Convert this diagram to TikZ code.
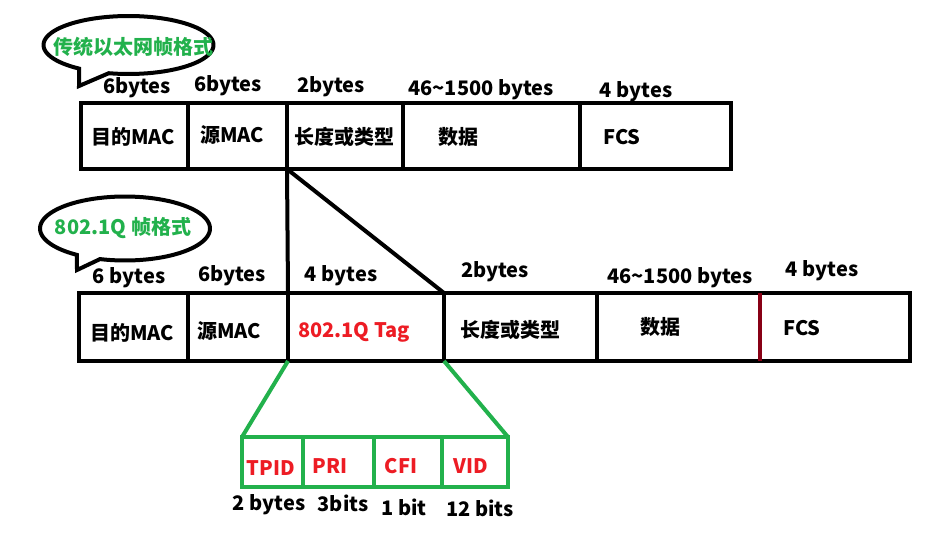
\documentclass[tikz,border=0pt]{standalone}
\usepackage{fontspec}
\setmainfont{Noto Sans CJK SC}
\definecolor{pgreen}{HTML}{22B14C}
\definecolor{pred}{HTML}{ED1C24}
\definecolor{pdark}{HTML}{880015}
\tikzset{
  cell/.style={draw=black, line width=4pt, rectangle, inner sep=0pt, outer sep=0pt, minimum height=#1},
  cell/.default=66pt,
  gcell/.style={draw=pgreen, line width=4pt, rectangle, inner sep=0pt, outer sep=0pt, minimum height=50pt},
  txt/.style={inner sep=0pt, font=\fontsize{20}{23}\selectfont\bfseries, text=black},
  rtxt/.style={txt, text=pred},
  gtxt/.style={txt, text=pgreen},
  link/.style={draw=black, line width=4pt},
  glink/.style={draw=pgreen, line width=4pt},
  bubble/.style={draw=black, line width=4pt, fill=white, line join=miter}
}
\begin{document}
\begin{tikzpicture}[x=1pt,y=-1pt]
\useasboundingbox[fill=white] (0,0) rectangle (944,536);
% bubble 1
\draw[bubble] plot[domain=125.5:463.4, samples=90] ({128.5+85*cos(\x)},{45+29*sin(\x)}) -- (79,86) -- cycle;
\node[gtxt] (b1) at (133,47) {传统以太网帧格式};
% bubble 2
\draw[bubble] plot[domain=124.4:467.1, samples=90] ({125+85*cos(\x)},{228.5+32*sin(\x)}) -- (77,270) -- cycle;
\node[gtxt] (b2) at (123,228) {802.1Q 帧格式};
% top frame
\node[cell, minimum width=107pt] (t1) at (134.5,136) {};
\node[cell, minimum width=99pt] (t2) at (237.5,136) {};
\node[cell, minimum width=116pt] (t3) at (345,136) {};
\node[cell, minimum width=177pt] (t4) at (491.5,136) {};
\node[cell, minimum width=151pt] (t5) at (655.5,136) {};
\node[txt] at (137,88) {6bytes};
\node[txt] at (228,86) {6bytes};
\node[txt] at (331,87) {2bytes};
\node[txt] at (481,90) {46\char`\~1500 bytes};
\node[txt] at (636,92) {4 bytes};
\node[txt] at (133,137) {目的MAC};
\node[txt] at (232,135) {源MAC};
\node[txt] at (344,137) {长度或类型};
\node[txt] at (458,137) {数据};
\node[txt] at (622,137) {FCS};
% second frame
\node[cell=68pt, minimum width=109pt] (s1) at (133.5,327) {};
\node[cell=68pt, minimum width=100pt] (s2) at (238,327) {};
\node[cell=68pt, minimum width=156pt] (s3) at (366,327) {};
\node[cell=68pt, minimum width=153pt] (s4) at (520.5,327) {};
\node[cell=68pt, minimum width=163pt] (s5) at (678.5,327) {};
\node[cell=68pt, minimum width=150pt] (s6) at (835,327) {};
\draw[draw=pdark, line width=4pt] (s6.north west) -- (s6.south west);
\node[txt] at (129,278) {6 bytes};
\node[txt] at (232,276) {6bytes};
\node[txt] at (341,276) {4 bytes};
\node[txt] at (495,272) {2bytes};
\node[txt] at (680,278) {46\char`\~1500 bytes};
\node[txt] at (822,271) {4 bytes};
\node[txt] at (132,333) {目的MAC};
\node[txt] at (229,331) {源MAC};
\node[rtxt] at (354,332) {802.1Q Tag};
\node[txt] at (510,330) {长度或类型};
\node[txt] at (660,327) {数据};
\node[txt] at (802,328) {FCS};
% tag fields
\node[gcell, minimum width=61pt] (g1) at (272.5,462) {};
\node[gcell, minimum width=71pt] (g2) at (338.5,462) {};
\node[gcell, minimum width=68pt] (g3) at (408,462) {};
\node[gcell, minimum width=66pt] (g4) at (475,462) {};
\node[rtxt] at (271,468) {TPID};
\node[rtxt] at (330,466) {PRI};
\node[rtxt] at (401,466) {CFI};
\node[rtxt] at (471,466) {VID};
\node[txt] at (269,505) {2 bytes};
\node[txt] at (343,503) {3bits};
\node[txt] at (404,507) {1 bit};
\node[txt] at (480,508) {12 bits};
% connectors
\draw[link] (t2.south east) -- (s3.north west);
\draw[link] (t2.south east) -- (s3.north east);
\draw[glink] (s3.south west) -- (g1.north west);
\draw[glink] (s3.south east) -- (g4.north east);
\end{tikzpicture}
\end{document}
